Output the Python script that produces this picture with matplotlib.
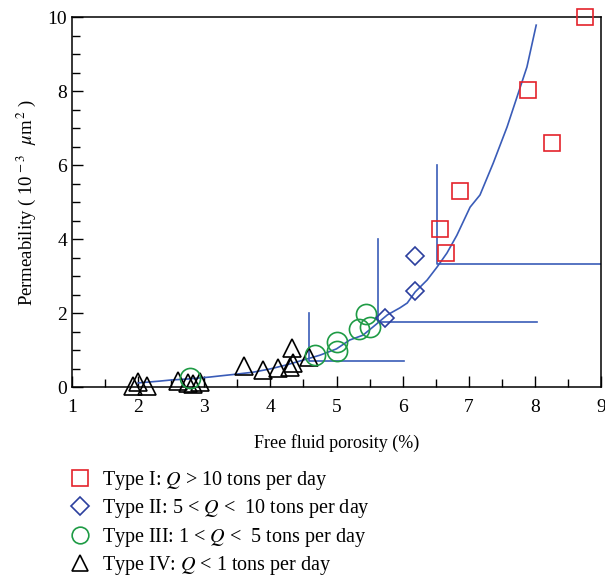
import matplotlib
matplotlib.use("Agg")
import matplotlib.pyplot as plt
from matplotlib.lines import Line2D
from matplotlib.ticker import MultipleLocator

plt.rcParams['font.family'] = ['Liberation Serif', 'DejaVu Serif']
plt.rcParams['mathtext.fontset'] = 'stix'

# Type I: Q > 10 t/d
type1_x = [8.76, 7.90, 8.26, 6.87, 6.57, 6.66]
type1_y = [10.0, 8.03, 6.60, 5.30, 4.27, 3.62]
# Type II: 5 < Q < 10
type2_x = [6.19, 6.19, 5.73]
type2_y = [3.54, 2.60, 1.87]
# Type III: 1 < Q < 5
type3_x = [2.78, 4.68, 5.00, 5.00, 5.34, 5.45, 5.51]
type3_y = [0.24, 0.86, 1.22, 0.97, 1.57, 1.97, 1.62]
# Type IV: Q < 1
type4_x = [2.00, 1.92, 2.13, 2.60, 2.75, 2.83, 2.94, 3.60, 3.89, 4.12, 4.33, 4.34, 4.30, 4.59]
type4_y = [0.14, 0.04, 0.04, 0.16, 0.10, 0.08, 0.14, 0.57, 0.46, 0.51, 1.05, 0.65, 0.55, 0.81]

# trend curve
curve_x = [2.00, 2.33, 2.50, 2.78, 3.09, 3.24, 3.45, 3.74, 4.00, 4.25, 4.50, 4.75, 5.00,
           5.20, 5.40, 5.55, 5.77, 5.96, 6.07, 6.19, 6.37, 6.52, 6.67, 6.82, 7.02, 7.17,
           7.37, 7.58, 7.78, 7.88, 8.02]
curve_y = [0.11, 0.16, 0.19, 0.22, 0.27, 0.30, 0.34, 0.40, 0.49, 0.60, 0.73, 0.86, 1.03,
           1.27, 1.40, 1.62, 1.95, 2.14, 2.27, 2.57, 2.89, 3.24, 3.62, 4.10, 4.86, 5.19,
           6.05, 7.03, 8.11, 8.65, 9.78]

# cutoff lines (vertical from top to knee, horizontal from knee to right)
cut_x = [4.59, 5.63, 6.52]
cut_top = [2.0, 4.0, 6.0]
cut_y = [0.70, 1.77, 3.32]
cut_right = [6.02, 8.03, 9.0]

labels = [r'Type I: $Q$ > 10 tons per day',
          r'Type II: 5 < $Q$ <  10 tons per day',
          r'Type III: 1 < $Q$ <  5 tons per day',
          r'Type IV: $Q$ < 1 tons per day']

red = '#e4222b'
navy = '#2c3f9e'
lineblue = '#3a5cb8'
green = '#1e9b45'

fig = plt.figure(figsize=(6.05, 5.78), dpi=100)
ax = fig.add_axes([72 / 605, 1 - 387 / 578, (601 - 72) / 605, (387 - 17) / 578])

ax.plot(curve_x, curve_y, color=lineblue, lw=1.2, zorder=2)
for x, top, y, right in zip(cut_x, cut_top, cut_y, cut_right):
    ax.plot([x, x, right], [top, y, y], color=lineblue, lw=1.2, zorder=2)

mk = dict(ls='none', mfc='none', mew=1.2, zorder=3, clip_on=False)
ax.plot(type4_x, type4_y, marker='^', ms=12.5, mec='black', **mk)
ax.plot(type3_x, type3_y, marker='o', ms=14.5, mec=green, **mk)
ax.plot(type2_x, type2_y, marker='D', ms=9, mec=navy, **mk)
ax.plot(type1_x, type1_y, marker='s', ms=11.5, mec=red, **mk)

ax.set_xlim(1, 9)
ax.set_ylim(0, 10)
ax.xaxis.set_major_locator(MultipleLocator(1))
ax.xaxis.set_minor_locator(MultipleLocator(0.5))
ax.yaxis.set_major_locator(MultipleLocator(2))
ax.yaxis.set_minor_locator(MultipleLocator(0.5))
ax.tick_params(which='both', direction='in', top=False, right=False, labelsize=14)
ax.tick_params(axis='x', which='both', pad=9)
ax.tick_params(which='major', length=8, width=1)
ax.tick_params(which='minor', length=6, width=1)
for s in ax.spines.values():
    s.set_linewidth(1.1)

ax.set_xlabel('Free fluid porosity (%)', fontsize=13, labelpad=13)
ax.set_ylabel(r'Permeability ( 10$^{\,-3}\ \ \mu$m$^{\,2}$ )', fontsize=13.5, labelpad=7)

handles = [
    Line2D([], [], marker='s', ms=11, mec=red, mfc='none', mew=1.2, ls='none'),
    Line2D([], [], marker='D', ms=9, mec=navy, mfc='none', mew=1.2, ls='none'),
    Line2D([], [], marker='o', ms=12, mec=green, mfc='none', mew=1.2, ls='none'),
    Line2D([], [], marker='^', ms=12, mec='black', mfc='none', mew=1.2, ls='none'),
]
fig.legend(handles, labels, loc='upper left', bbox_to_anchor=(60 / 605, 1 - 461 / 578),
           frameon=False, fontsize=14.5, handlelength=1.2, handletextpad=0.5,
           labelspacing=0.27, borderaxespad=0)

fig.savefig('out.png', dpi=100)
